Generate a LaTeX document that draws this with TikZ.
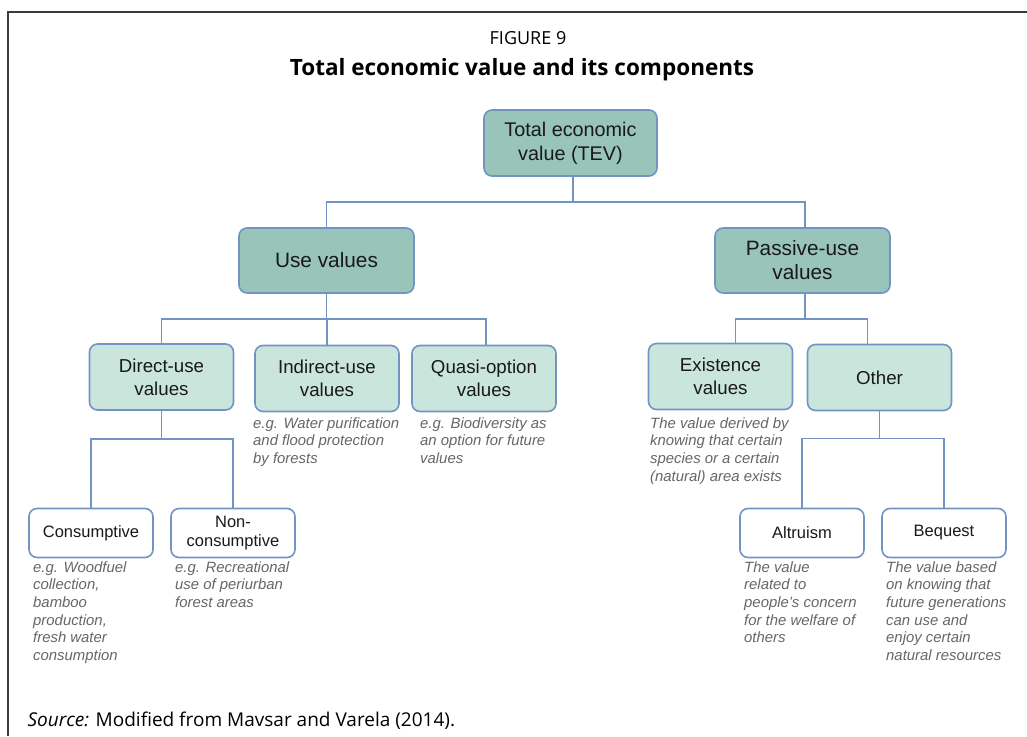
\documentclass[tikz,border=0pt]{standalone}
\usepackage{fontspec}
\setmainfont{Liberation Sans}
\newfontfamily\capfont{Open Sans}
\usetikzlibrary{calc,positioning}
\definecolor{boxline}{HTML}{7393C3}
\definecolor{darkfill}{HTML}{99C4B9}
\definecolor{lightfill}{HTML}{C9E5DC}
\definecolor{notegray}{HTML}{666666}
\definecolor{framegray}{HTML}{3A3A3A}
\tikzset{
    x=1pt, y=-1pt,
    box/.style ={rectangle, rounded corners=8pt, draw=boxline, line width=1.6pt, align=center, inner sep=0pt, text=black!90},
    top/.style ={box, fill=darkfill, minimum width=175pt, minimum height=65pt, font=\fontsize{20.8}{24}\selectfont},
    mid/.style ={box, fill=lightfill, minimum width=144pt, minimum height=66pt, font=\fontsize{18.7}{23}\selectfont},
    leaf/.style={box, fill=white, minimum width=124pt, minimum height=49pt, font=\fontsize{16.5}{19}\selectfont},
    note/.style={anchor=north west, align=left, inner sep=0pt, text=notegray, font=\fontsize{14.9}{17.7}\selectfont\itshape},
    link/.style={draw=boxline, line width=1.6pt}
}

\begin{document}
\begin{tikzpicture}
    \useasboundingbox (0,0) rectangle (1027,736);
    \draw[framegray, line width=2pt] (8,736) -- (8,12) -- (1027,12);

    % Title
    \node[font=\capfont\fontsize{18}{22}\selectfont] (fig) at (528,38) {FIGURE 9};
    \node[font=\capfont\bfseries\fontsize{22.5}{26}\selectfont] (title) at (522,70) {Total economic value and its components};

    % Level 1
    \node[top, minimum width=173pt, minimum height=66pt, font=\fontsize{19.8}{24}\selectfont] (tev) at (570.5,143) {Total economic\\value (TEV)};
    \node[top] (use) at (326.5,260.5) {Use values};
    \node[top] (pu) at (802.5,260.5) {Passive-use\\values};

    % Level 2
    \node[mid] (du) at (161.5,377) {Direct-use\\values};
    \node[mid] (iu) at (327,378.5) {Indirect-use\\values};
    \node[mid] (qo) at (484,378.5) {Quasi-option\\values};
    \node[mid] (ex) at (720.5,376.5) {Existence\\values};
    \node[mid] (ot) at (879.5,377.5) {Other};

    % Level 3
    \node[leaf] (con) at (91,533) {Consumptive};
    \node[leaf, yshift=-1.5pt] (non) at (233,531.5) {Non-\\consumptive};
    \node[leaf] (alt) at (802,533) {Altruism};
    \node[leaf] (beq) at (944,533) {Bequest};

    % Notes
    \node[note] (niu) at (253,417) {e.g. Water purification\\and flood protection\\by forests};
    \node[note] (nqo) at (420,417) {e.g. Biodiversity as\\an option for future\\values};
    \node[note] (nex) at (650,417) {The value derived by\\knowing that certain\\species or a certain\\(natural) area exists};
    \node[note] (ncon) at (33,561) {e.g. Woodfuel\\collection,\\bamboo\\production,\\fresh water\\consumption};
    \node[note] (nnon) at (175,561) {e.g. Recreational\\use of periurban\\forest areas};
    \node[note] (nalt) at (744,561) {The value\\related to\\people's concern\\for the welfare of\\others};
    \node[note] (nbeq) at (886,561) {The value based\\on knowing that\\future generations\\can use and\\enjoy certain\\natural resources};

    % Source
    \node[anchor=west, font=\capfont\fontsize{19}{22}\selectfont] (src) at (24,721) {\textit{Source:} Modified from Mavsar and Varela (2014).};

    % Connectors
    \draw[link] ([xshift=2.5pt]tev.south) -- ++(0,25) coordinate (tevbus);
    \draw[link] (use.north) |- (tevbus) -| ([xshift=2.5pt]pu.north);

    \draw[link] (use.south) -- ++(0,25) coordinate (usebus);
    \draw[link] (du.north) |- (usebus) -| ([xshift=2pt]qo.north);
    \draw[link] (iu.north |- usebus) -- (iu.north);

    \draw[link] ([xshift=2.5pt]pu.south) -- ++(0,25) coordinate (pubus);
    \draw[link] ([xshift=15pt]ex.north) |- (pubus) -| ([xshift=-12pt]ot.north);

    \draw[link] (du.south) -- ++(0,28) coordinate (dubus);
    \draw[link] (con.north) |- (dubus) -| (non.north);

    \draw[link] (ot.south) -- ++(0,27) coordinate (otbus);
    \draw[link] (alt.north) |- (otbus) -| (beq.north);
\end{tikzpicture}
\end{document}
